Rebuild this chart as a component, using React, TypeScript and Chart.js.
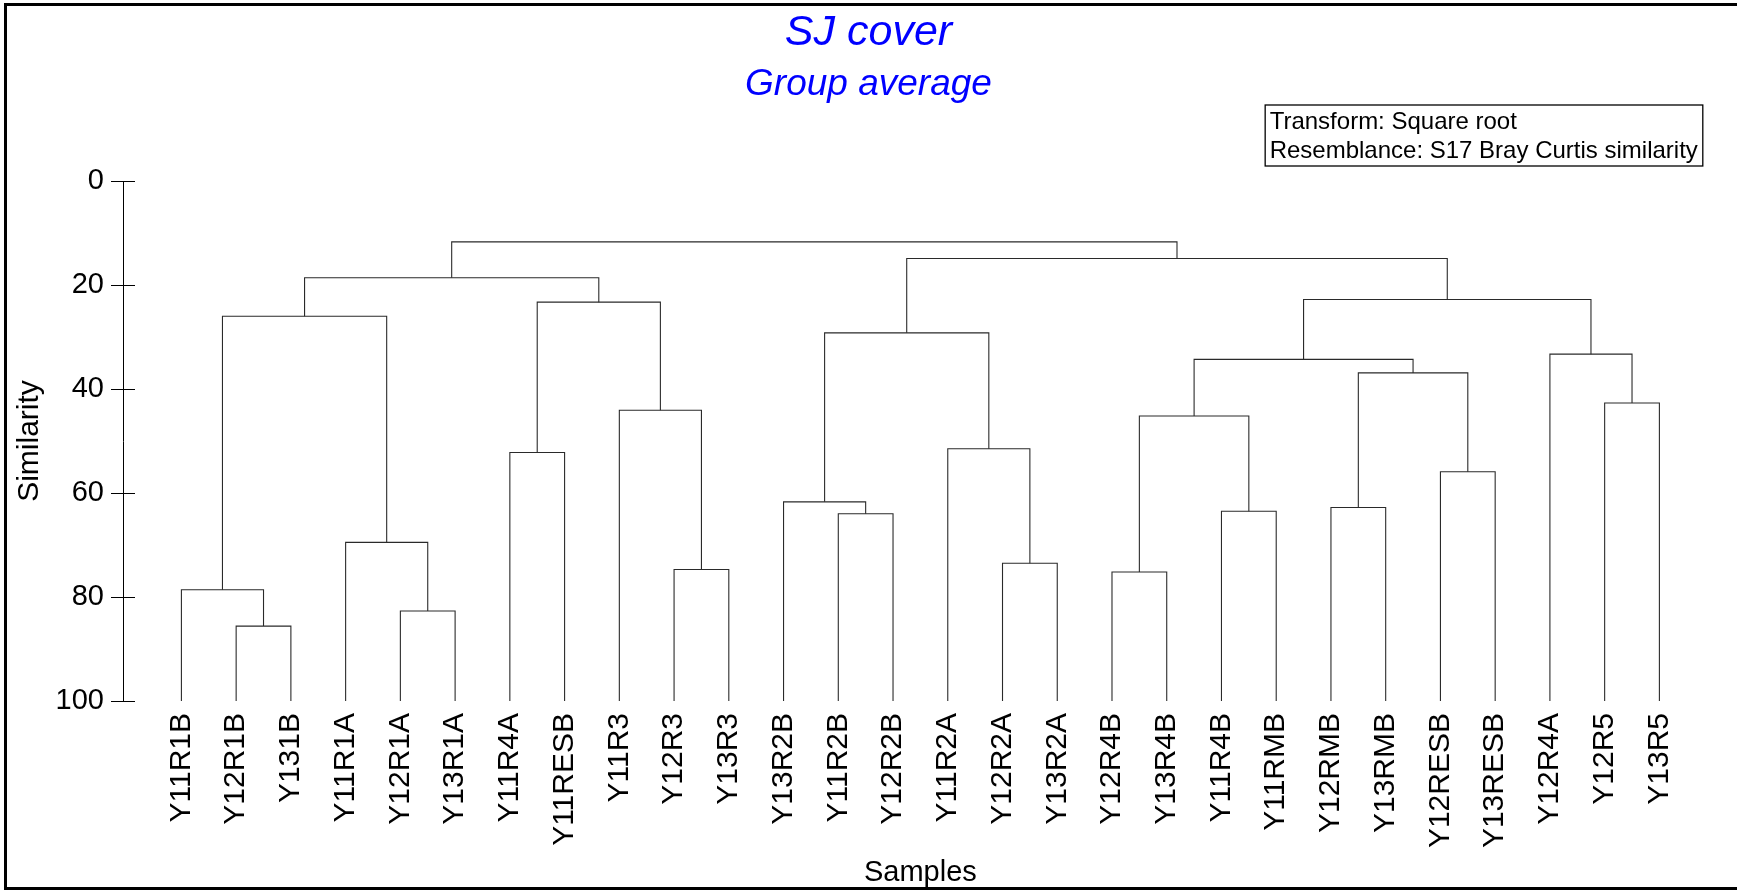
import React, { useEffect, useRef } from 'react';
import { Chart, registerables } from 'chart.js';

Chart.register(...registerables);

const FONT = "'Liberation Sans', Arial, Helvetica, sans-serif";

// Leaf order along the x axis
const leafLabels = [
  'Y11R1B', 'Y12R1B', 'Y131B', 'Y11R1A', 'Y12R1A', 'Y13R1A', 'Y11R4A', 'Y11RESB',
  'Y11R3', 'Y12R3', 'Y13R3', 'Y13R2B', 'Y11R2B', 'Y12R2B', 'Y11R2A', 'Y12R2A',
  'Y13R2A', 'Y12R4B', 'Y13R4B', 'Y11R4B', 'Y11RMB', 'Y12RMB', 'Y13RMB', 'Y12RESB',
  'Y13RESB', 'Y12R4A', 'Y12R5', 'Y13R5',
];

// Merge table: ids 0..27 are leaves, merge k creates node id 28 + k
const mergeLeft = [1, 0, 4, 3, 29, 6, 9, 8, 33, 32, 12, 11, 15, 14, 39, 17, 19, 43, 21, 23, 46, 45, 26, 25, 49, 42, 37];
const mergeRight = [2, 28, 5, 30, 31, 7, 10, 34, 35, 36, 13, 38, 16, 40, 41, 18, 20, 44, 22, 24, 47, 48, 27, 50, 51, 52, 53];
const mergeSimilarity = [
  85.6, 78.6, 82.7, 69.5, 26.0, 52.2, 74.7, 44.1, 23.3, 18.6, 64.0, 61.7, 73.5, 51.5,
  29.2, 75.2, 63.5, 45.2, 62.8, 55.9, 36.9, 34.3, 42.7, 33.3, 22.8, 14.9, 11.7,
];

const yTicks = [0, 20, 40, 60, 80, 100];

const titleText = 'SJ cover';
const subtitleText = 'Group average';
const infoLines = ['Transform: Square root', 'Resemblance: S17 Bray Curtis similarity'];
const xTitle = 'Samples';
const yTitle = 'Similarity';

function buildDatasets() {
  const nodeX: number[] = leafLabels.map((_, i) => i);
  const nodeH: number[] = leafLabels.map(() => 100);
  const datasets: any[] = [];
  mergeLeft.forEach((l, k) => {
    const r = mergeRight[k];
    const h = mergeSimilarity[k];
    datasets.push({
      data: [
        { x: nodeX[l], y: nodeH[l] },
        { x: nodeX[l], y: h },
        { x: nodeX[r], y: h },
        { x: nodeX[r], y: nodeH[r] },
      ],
      yAxisID: 'y',
      borderColor: '#2a2a2a',
      borderWidth: 1.1,
      pointRadius: 0,
      fill: false,
      tension: 0,
    });
    nodeX.push((nodeX[l] + nodeX[r]) / 2);
    nodeH.push(h);
  });
  return datasets;
}

const crossTicks = {
  id: 'crossTicks',
  afterDraw(chart: any) {
    const { ctx, chartArea, scales } = chart;
    ctx.save();
    ctx.strokeStyle = '#000';
    ctx.lineWidth = 1;
    yTicks.forEach((v) => {
      const y = Math.round(scales.y.getPixelForValue(v)) + 0.5;
      ctx.beginPath();
      ctx.moveTo(chartArea.left, y);
      ctx.lineTo(chartArea.left + 12, y);
      ctx.stroke();
    });
    ctx.restore();
  },
};

const infoBox = {
  id: 'infoBox',
  afterDraw(chart: any) {
    const { ctx, chartArea } = chart;
    ctx.save();
    ctx.font = `24px ${FONT}`;
    const w = Math.max(...infoLines.map((t) => ctx.measureText(t).width));
    const right = chartArea.right - 15;
    const left = right - (w + 9.5);
    const top = chartArea.top - 76;
    const height = 61;
    ctx.strokeStyle = '#000';
    ctx.lineWidth = 1.3;
    ctx.strokeRect(left, top, right - left, height);
    ctx.fillStyle = '#000';
    ctx.textBaseline = 'alphabetic';
    ctx.textAlign = 'left';
    infoLines.forEach((t, i) => {
      ctx.fillText(t, left + 4.5, top + 24.3 + i * 29);
    });
    ctx.restore();
  },
};

export default function App() {
  const canvasRef = useRef<HTMLCanvasElement | null>(null);

  useEffect(() => {
    if (!canvasRef.current) return;
    const chart = new Chart(canvasRef.current, {
      type: 'line',
      data: { datasets: buildDatasets() },
      options: {
        responsive: false,
        animation: false,
        layout: { padding: { left: 0, right: 0, top: 0, bottom: 0 } },
        plugins: {
          legend: { display: false },
          tooltip: { enabled: false },
          title: {
            display: true,
            text: titleText,
            color: '#0000FF',
            font: { family: FONT, size: 43, style: 'italic', weight: 'normal' },
            padding: { top: 7.5, bottom: 0 },
          },
          subtitle: {
            display: true,
            text: subtitleText,
            color: '#0000FF',
            font: { family: FONT, size: 37, style: 'italic', weight: 'normal' },
            padding: { top: 3.5, bottom: 74 },
          },
        },
        scales: {
          x: {
            type: 'linear',
            min: -1.067,
            max: 28.067,
            afterBuildTicks: (scale: any) => {
              scale.ticks = leafLabels.map((_, i) => ({ value: i }));
            },
            afterFit: (scale: any) => {
              scale.height = 189;
            },
            ticks: {
              autoSkip: false,
              maxRotation: 90,
              minRotation: 90,
              padding: 12,
              color: '#000',
              font: { family: FONT, size: 30 },
              callback: (v: any) => leafLabels[v as number] ?? '',
            },
            grid: { display: false, drawTicks: false },
            border: { display: false },
            title: {
              display: true,
              text: xTitle,
              color: '#000',
              font: { family: FONT, size: 29 },
              padding: { top: 0, bottom: 0 },
            },
          },
          y: {
            type: 'linear',
            position: 'left',
            reverse: true,
            min: 0,
            max: 100,
            afterBuildTicks: (scale: any) => {
              scale.ticks = yTicks.map((v) => ({ value: v }));
            },
            afterFit: (scale: any) => {
              scale.width = 123;
            },
            ticks: {
              padding: 7,
              color: '#000',
              font: { family: FONT, size: 29 },
            },
            grid: {
              drawOnChartArea: false,
              drawTicks: true,
              tickLength: 12,
              color: '#000',
              lineWidth: 1,
            },
            border: { display: true, color: '#000', width: 1 },
            title: {
              display: true,
              text: yTitle,
              color: '#000',
              font: { family: FONT, size: 30 },
              padding: { top: 12, bottom: 0 },
            },
          },
          yRight: {
            type: 'linear',
            position: 'right',
            min: 0,
            max: 100,
            afterFit: (scale: any) => {
              scale.width = 19.2;
            },
            ticks: { display: false },
            grid: { display: false, drawTicks: false },
            border: { display: false },
          },
        },
      },
      plugins: [crossTicks, infoBox],
    });
    return () => chart.destroy();
  }, []);

  return (
    <div style={{ position: 'absolute', left: 0, top: 0, width: 1737, height: 890, background: '#fff' }}>
      <canvas ref={canvasRef} width={1737} height={890} style={{ display: 'block' }} />
      <div
        style={{
          position: 'absolute',
          left: 4,
          top: 3,
          width: 1760,
          height: 887,
          boxSizing: 'border-box',
          border: '3px solid #000',
          borderRight: 'none',
          pointerEvents: 'none',
        }}
      />
    </div>
  );
}
